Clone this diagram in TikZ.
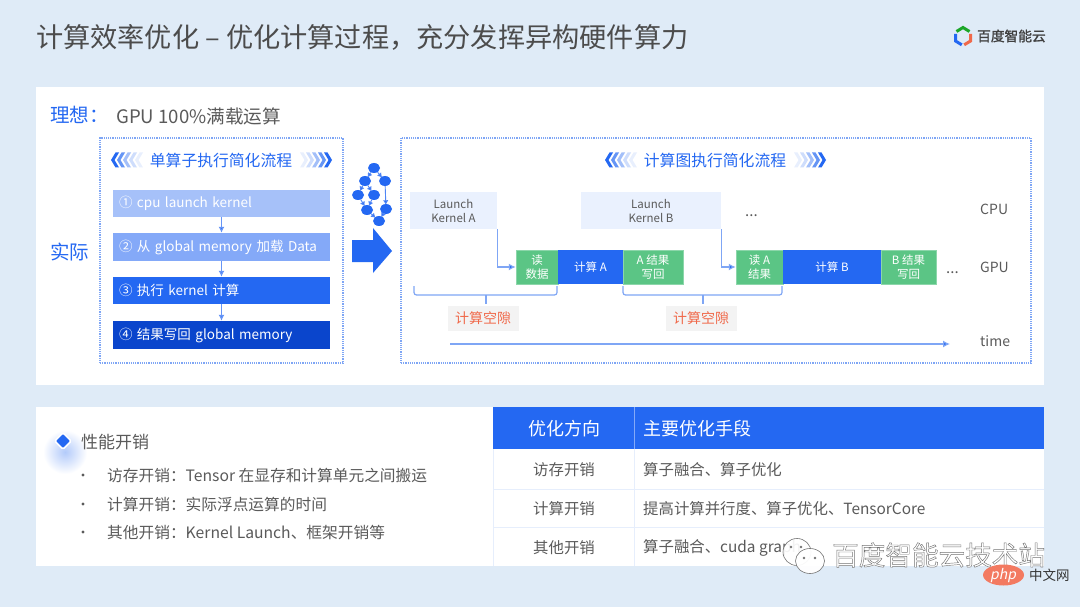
\documentclass[tikz,border=0pt]{standalone}
\usepackage{fontspec}
\setmainfont{Noto Sans CJK SC}
\usetikzlibrary{arrows.meta,shapes.geometric}
\definecolor{pagebg}{HTML}{DFEBF7}
\definecolor{bdblue}{HTML}{2468F2}
\definecolor{deepblue}{HTML}{0A45CC}
\definecolor{stepa}{HTML}{A6C1F9}
\definecolor{stepb}{HTML}{84A9F8}
\definecolor{dotblue}{HTML}{7FA6F5}
\definecolor{linkblue}{HTML}{7FA6F5}
\definecolor{greenbox}{HTML}{5BC585}
\definecolor{paleblue}{HTML}{EAF1FE}
\definecolor{txt}{HTML}{5A5A5A}
\definecolor{gapred}{HTML}{F0694A}
\definecolor{gapbg}{HTML}{F3F3F3}
\definecolor{rowline}{HTML}{E6EEFC}
\tikzset{
  fs/.style={font=\fontsize{#1}{20}\selectfont},
  lbl/.style={inner sep=0pt,anchor=west,text=txt},
  stepbox/.style={minimum height=27pt,text width=205pt,inner xsep=6pt,inner ysep=0pt,align=left,text=white,fs=13.5},
  dotbox/.style={draw=dotblue,line width=1.2pt,densely dotted,inner sep=0pt},
  flowarr/.style={draw=bdblue!70!white,line width=1.2pt,-{Latex[length=6pt,width=6pt,fill=bdblue]}},
  linkarr/.style={draw=linkblue,line width=1.2pt,-{Latex[length=7pt,width=7pt,fill=bdblue]}},
  bracket/.style={draw=linkblue,line width=1.2pt,rounded corners=2.5pt},
  launch/.style={fill=paleblue,text=txt,inner sep=0pt,align=center,font=\fontsize{11.5}{14}\selectfont},
  gbox/.style={fill=greenbox,draw=greenbox!70!white,line width=.5pt,text=white,inner sep=0pt,align=center,minimum height=34pt,font=\fontsize{11.5}{14}\selectfont},
  bbox/.style={fill=bdblue,text=white,inner sep=0pt,align=center,minimum height=34pt,font=\fontsize{11.5}{14}\selectfont},
  gaplbl/.style={fill=gapbg,text=gapred,inner sep=0pt,minimum width=71pt,minimum height=25pt,fs=14},
  dag/.style={ellipse,fill=bdblue,minimum width=12pt,minimum height=10pt,inner sep=0pt},
  dagarr/.style={draw=bdblue!80!white,line width=.9pt,-{Latex[length=4.5pt,width=5.5pt,fill=bdblue]},shorten >=-1pt},
  heading/.style={inner sep=0pt,text=bdblue,fs=15.8},
  cell/.style={inner sep=0pt,text=txt,fs=15.4},
  bulletlbl/.style={inner sep=0pt,text=txt,fs=15.7},
}
\newcommand{\chevset}[3]{% x of outer tip, y, direction
  \begin{scope}[shift={(#1,#2)},xscale=#3]
    \foreach \i/\op in {0/1,1/.7,2/.42,3/.22,4/.1}{
      \fill[bdblue,opacity=\op,xshift=-6*\i] (0,0)--(-4.5,7.5)--(-8,7.5)--(-3.5,0)--(-8,-7.5)--(-4.5,-7.5)--cycle;
    }
  \end{scope}
}
\newcommand{\lowertext}[1]{\raisebox{-1pt}{#1}}
\begin{document}
\begin{tikzpicture}[x=1pt,y=-1pt]
\useasboundingbox (0,0) rectangle (1080,607);
\fill[pagebg] (0,0) rectangle (1080,607);
% panels
\fill[white] (36,87) rectangle (1044,385);
\fill[white] (36,407) rectangle (1044,566);
% title
\node[lbl,text=txt!85!black,fs=27.2] (title) at (36,37.5) {计算效率优化 – 优化计算过程，充分发挥异构硬件算力};
% logo
\begin{scope}[line width=3pt]
\draw[green!60!black!70!greenbox] (956.5,31.5)--(963,27.5)--(969.5,31.5);
\draw[bdblue] (955.5,34)--(955.5,41)--(961.8,44.8);
\draw[gapred] (970.5,34)--(970.5,41)--(964.2,44.8);
\end{scope}
\node[lbl,text=black!75,fs=13.7] (logotext) at (977,36) {\addfontfeature{FakeBold=1.5}百度智能云};
% ideal line
\node[lbl,text=bdblue,fs=19.5] (ideal) at (50,115) {理想：};
\node[lbl,fs=18.6] (idealtext) at (116,116) {GPU 100\%满载运算};
\node[lbl,text=bdblue,fs=19.5] (actual) at (50,252) {实际};
% dotted frames
\node[dotbox,minimum width=243pt,minimum height=225pt] (leftframe) at (221.5,250.5) {};
\node[dotbox,minimum width=630pt,minimum height=225pt] (rightframe) at (716,250.5) {};
% headings
\node[heading] (lefthead) at (221,160) {单算子执行简化流程};
\chevset{111}{160}{-1}
\chevset{332}{160}{1}
\node[heading] (righthead) at (715,160) {计算图执行简化流程};
\chevset{605}{160}{-1}
\chevset{826}{160}{1}
% steps
\node[stepbox,fill=stepa] (s1) at (221.5,203.5) {\lowertext{① cpu launch kernel}};
\node[stepbox,fill=stepb,minimum height=28pt] (s2) at (221.5,247) {\lowertext{② 从 global memory 加载 Data}};
\node[stepbox,fill=bdblue] (s3) at (221.5,290.5) {\lowertext{③ 执行 kernel 计算}};
\node[stepbox,fill=deepblue,minimum height=28pt] (s4) at (221.5,335) {\lowertext{④ 结果写回 global memory}};
\draw[flowarr] (s1)--(s2);
\draw[flowarr] (s2)--(s3);
\draw[flowarr] (s3)--(s4);
% dag
\node[dag] (d1) at (374,168) {};
\node[dag] (d2) at (365,181) {};
\node[dag] (d3) at (385,181) {};
\node[dag] (d4) at (358,195) {};
\node[dag] (d5) at (374,195) {};
\node[dag] (d6) at (367,210) {};
\node[dag] (d7) at (386,209) {};
\node[dag] (d8) at (379,221) {};
\foreach \a/\b in {d1/d2,d1/d3,d2/d4,d2/d5,d3/d7,d4/d6,d5/d6,d6/d8,d7/d8}{\draw[dagarr] (\a)--(\b);}
% big arrow
\fill[bdblue] (352,240)--(373,240)--(373,228)--(392,251)--(373,273)--(373,262)--(352,262)--cycle;
% timeline
\node[launch,minimum width=87pt,minimum height=37pt] (la) at (453.5,210.5) {Launch\\Kernel A};
\node[launch,minimum width=140pt,minimum height=37pt] (lb) at (651,210.5) {Launch\\Kernel B};
\node[gbox,minimum width=42pt] (g1) at (537,267) {读\\数据};
\node[bbox,minimum width=65pt] (b1) at (590.5,267) {计算 A};
\node[gbox,minimum width=60pt] (g2) at (653,267) {A 结果\\写回};
\node[gbox,minimum width=47pt] (g3) at (759.5,267) {读 A\\结果};
\node[bbox,minimum width=98pt] (b2) at (832,267) {计算 B};
\node[gbox,minimum width=55pt] (g4) at (908.5,267) {B 结果\\写回};
\draw[linkarr] (la.south east) |- (g1.west);
\draw[linkarr] (lb.south east) |- (g3.west);
% gap brackets
\coordinate (bla) at (414,286);
\coordinate (blb) at (557,286);
\coordinate (blm) at (486,295);
\coordinate (blt) at (486,304);
\coordinate (bra) at (623,286);
\coordinate (brb) at (782,286);
\coordinate (brm) at (703,295);
\coordinate (brt) at (703,304);
\draw[bracket] (bla)--(bla|-blm)--(blb|-blm)--(blb);
\draw[bracket] (blm)--(blt);
\draw[bracket] (bra)--(bra|-brm)--(brb|-brm)--(brb);
\draw[bracket] (brm)--(brt);
\node[gaplbl] (gap1) at (483,318.5) {\lowertext{计算空隙}};
\node[gaplbl] (gap2) at (701,318.5) {\lowertext{计算空隙}};
% time arrow
\coordinate (ts) at (450,344);
\coordinate (te) at (950,344);
\draw[linkarr] (ts)--(te);
\node[lbl,fs=14] (lcpu) at (980,209) {CPU};
\node[lbl,fs=14] (lgpu) at (980,267) {GPU};
\node[lbl,fs=14] (ltime) at (980,341) {time};
\node[lbl,fs=15] (dots1) at (745,216) {...};
\node[lbl,fs=15] (dots2) at (946,273) {...};
% lower left
\shade[inner color=bdblue!35!white,outer color=white] (65,452) circle (22);
\node[diamond,fill=bdblue,draw=white,line width=1.5pt,minimum width=17pt,minimum height=17pt,inner sep=0pt,rounded corners=1.5pt] (dia) at (63,441) {};
\node[lbl,fs=17] (perf) at (81,442) {性能开销};
\foreach \yy/\ty/\lab in {475/476/访存开销：Tensor 在显存和计算单元之间搬运,504/505/计算开销：实际浮点运算的时间,532/533/其他开销：Kernel Launch、框架开销等}{
  \fill[txt] (83,\yy) circle (1.6);
  \node[lbl,bulletlbl,anchor=west] at (107,\ty) {\lab};
}
% table
\fill[bdblue] (493,407) rectangle (1044,449);
\draw[stepb,line width=.7pt] (634,407)--(634,449);
\draw[rowline,line width=1pt] (493,449)--(493,566);
\draw[rowline,line width=1pt] (634,449)--(634,566);
\draw[rowline,line width=1pt] (493,489)--(1044,489);
\draw[rowline,line width=1pt] (493,527)--(1044,527);
\node[inner sep=0pt,text=white,fs=18] (th1) at (564,429) {优化方向};
\node[inner sep=0pt,anchor=west,text=white,fs=18] (th2) at (643,429) {主要优化手段};
\node[cell] (r1a) at (564,470) {访存开销};
\node[cell] (r2a) at (564,509) {计算开销};
\node[cell] (r3a) at (564,548) {其他开销};
\node[cell,anchor=west] (r1b) at (643,470) {算子融合、算子优化};
\node[cell,anchor=west] (r2b) at (643,509) {提高计算并行度、算子优化、TensorCore};
\node[cell,anchor=west] (r3b) at (643,548) {算子融合、cuda graph};
% watermark
\begin{scope}[draw=black!55,line width=.6pt]
\filldraw[fill=white,fill opacity=.92] (797,552) ellipse (14 and 13.5);
\filldraw[fill=white,fill opacity=.95] (810,561) ellipse (14.5 and 12.5);
\fill[black!55] (804,558) circle (1.3) (815,558) circle (1.3);
\fill[black!55] (791,547) circle (1.3) (801,547) circle (1.3);
\end{scope}
\node[lbl,text=white,fs=26.6] (wm) at (832,555) {\special{pdf:code 2 Tr 0.45 w 0.45 0.45 0.45 RG}百度智能云技术站\special{pdf:code 0 Tr}};
\fill[gapred!80!pink] (1003.5,575) ellipse (20.5 and 10.5);
\node[inner sep=0pt,text=white,fs=14] (php) at (1003,576) {\addfontfeature{FakeSlant=0.2}php};
\node[lbl,text=black!80,fs=13.5] (cn) at (1029,575) {中文网};
\end{tikzpicture}
\end{document}
